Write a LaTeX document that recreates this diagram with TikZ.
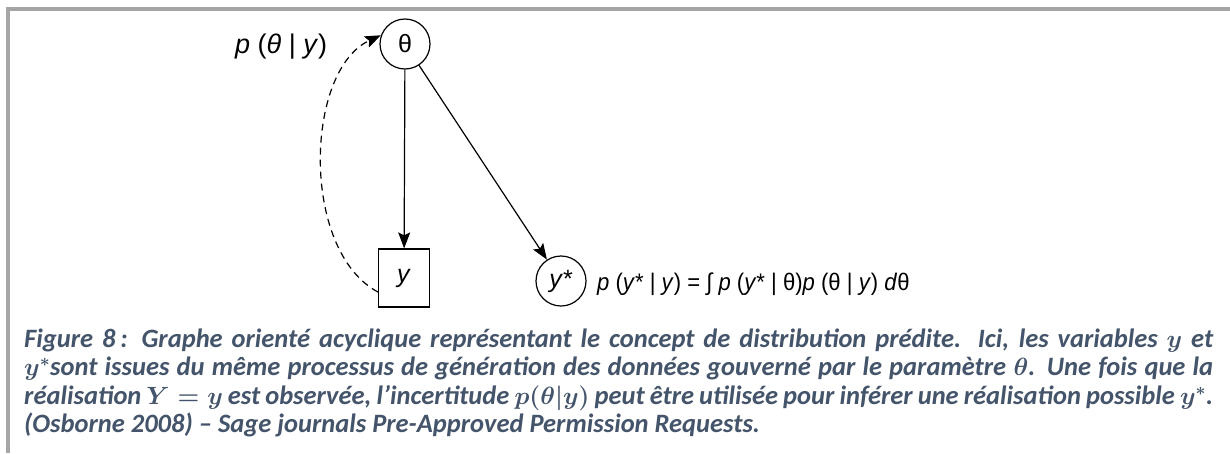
\documentclass[tikz,border=0pt]{standalone}
\usepackage{fontspec}
\usepackage{graphicx}
\usetikzlibrary{arrows.meta}
\newfontfamily\dfont{Liberation Sans}
\newfontfamily\capfont{Carlito}
\definecolor{capblue}{HTML}{44546A}
\definecolor{framegray}{HTML}{A5A5A5}
\setlength{\lineskiplimit}{-20pt}
\begin{document}
\begin{tikzpicture}[x=1pt,y=-1pt,
  dtext/.style={font=\dfont\fontsize{25}{28}\selectfont},
  var/.style={circle,draw,line width=1.2pt,minimum size=50pt,inner sep=0pt,dtext},
  obs/.style={rectangle,draw,line width=1.2pt,minimum width=51pt,minimum height=58pt,inner sep=0pt,dtext},
  edge/.style={line width=1.2pt,-{Stealth[length=16pt,width=12pt,inset=3pt]}},
  lbl/.style={inner sep=0pt,anchor=base west},
  captext/.style={inner sep=0pt,anchor=north west,align=left,text=capblue,
    font=\capfont\bfseries\itshape\boldmath\fontsize{26.5}{28.5}\selectfont}]
\useasboundingbox (0,0) rectangle (1230,453);
\fill[white] (0,0) rectangle (1230,453);
\fill[framegray] (6,7) rectangle (1230,11);
\fill[framegray] (6,7) rectangle (10,453);
% nodes
\node[var] (theta) at (405,44) {θ};
\node[obs] (y) at (404,278) {\textit{y}};
\node[var] (ys) at (561,281) {\textit{y}*};
\node[lbl,font=\dfont\fontsize{27}{30}\selectfont] (post) at (235,53) {\textit{p} (\textit{θ} | \textit{y})};
\node[lbl,font=\dfont\fontsize{24}{27}\selectfont] (pred) at (597,290) {\scalebox{0.92}[1]{\textit{p} (\textit{y}* | \textit{y}) = ∫ \textit{p} (\textit{y}* | θ)\textit{p} (θ | \textit{y}) \textit{d}θ}};
% edges
\draw[edge] (theta) -- (y);
\draw[edge] (theta) -- (ys);
\draw[edge,dash pattern=on 7pt off 5pt] (y.west |- 0,292) .. controls (300,250) and (305,70) .. (theta.160);
% caption
\node[captext] (cap) at (24,328.5) {%
\makebox[1189pt][s]{Figure 8\hspace{5pt}: Graphe orienté acyclique représentant le concept de distribution prédite. Ici, les variables $y$ et}\\
\makebox[1189pt][s]{$y^{*}$sont issues du même processus de génération des données gouverné par le paramètre $\theta$. Une fois que la}\\
\makebox[1189pt][s]{réalisation $Y=y$ est observée, l’incertitude $p(\theta|y)$ peut être utilisée pour inférer une réalisation possible $y^{*}$.}\\
(Osborne 2008) – Sage journals Pre-Approved Permission Requests.};
\end{tikzpicture}
\end{document}
